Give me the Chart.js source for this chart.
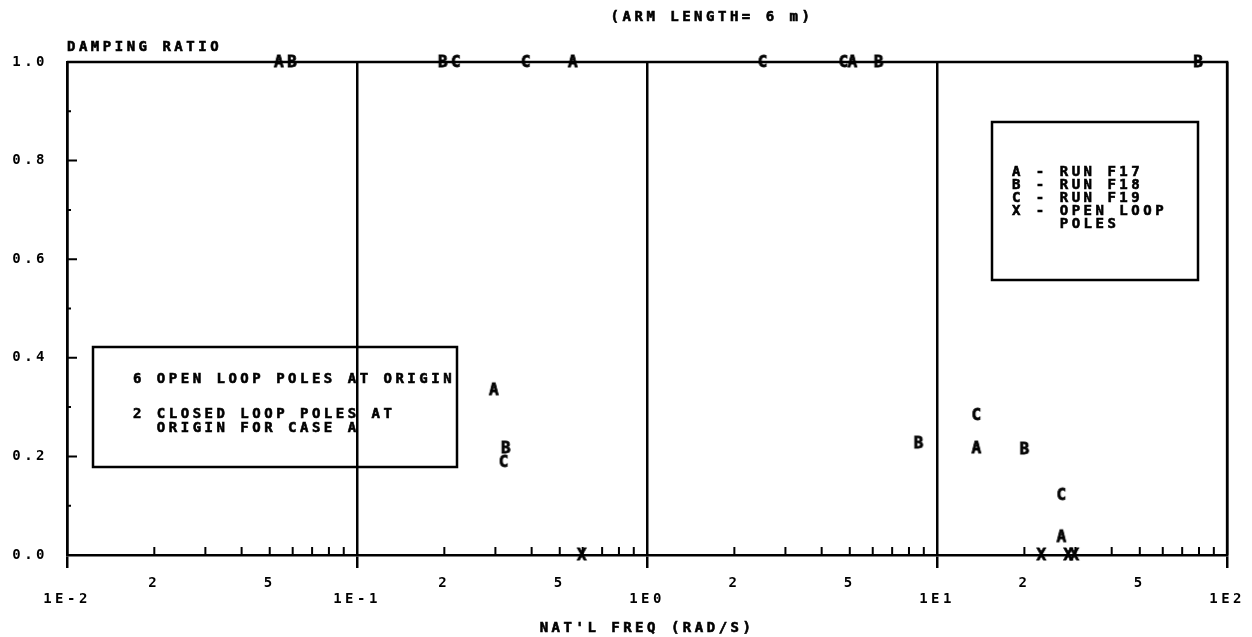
<!DOCTYPE html>
<html><head><meta charset="utf-8">
<script src="https://cdn.jsdelivr.net/npm/chart.js@4/dist/chart.umd.min.js"></script>
<style>html,body{margin:0;padding:0;background:#fff}#wrap{width:1252px;height:637px}</style>
</head><body><div id="wrap"><canvas id="c" width="1252" height="637"></canvas></div>
<script>
// ---- text ----
const chartTitle = '(ARM LENGTH= 6 m)';
const yAxisTitle = 'DAMPING RATIO';
const xAxisTitle = "NAT'L FREQ (RAD/S)";
const noteLines = ['6 OPEN LOOP POLES AT ORIGIN', '2 CLOSED LOOP POLES AT', '  ORIGIN FOR CASE A'];
const legendLines = ['A - RUN F17', 'B - RUN F18', 'C - RUN F19', 'X - OPEN LOOP', '    POLES'];

// ---- data (natural frequency rad/s, damping ratio) ----
const runAFreq = [0.0537, 0.554, 5.10, 0.296, 13.65, 26.8];
const runADamp = [1.0, 1.0, 1.0, 0.335, 0.217, 0.037];
const runBFreq = [0.0596, 0.1974, 6.28, 79.4, 0.3255, 8.62, 19.98];
const runBDamp = [1.0, 1.0, 1.0, 1.0, 0.217, 0.227, 0.215];
const runCFreq = [0.2189, 0.3815, 2.50, 4.75, 0.320, 13.65, 26.8];
const runCDamp = [1.0, 1.0, 1.0, 1.0, 0.189, 0.284, 0.122];
const openFreq = [0.595, 22.86, 28.3, 29.7];
const openDamp = [0.0, 0.0, 0.0, 0.0];

// ---- ticks ----
const xTickValues = [0.01,0.02,0.03,0.04,0.05,0.06,0.07,0.08,0.09,
  0.1,0.2,0.3,0.4,0.5,0.6,0.7,0.8,0.9,
  1,2,3,4,5,6,7,8,9,
  10,20,30,40,50,60,70,80,90,100];
const xMajorValues = [0.01, 0.1, 1, 10, 100];
const xMajorLabels = ['1E-2', '1E-1', '1E0', '1E1', '1E2'];
const xMinorLabelDigits = ['2', '5'];
const yTickValues = [0,0.1,0.2,0.3,0.4,0.5,0.6,0.7,0.8,0.9,1.0];
const yLabelValues = [0,0.2,0.4,0.6,0.8,1.0];

const FONT = '"DejaVu Sans Mono", monospace';
const FS = 14;
const SP = '3.5px';

function isMajorX(v){ return xMajorValues.some(m => Math.abs(m - v) / m < 1e-6); }
function xLabel(v){
  const i = xMajorValues.findIndex(m => Math.abs(m - v) / m < 1e-6);
  if (i >= 0) return ['', xMajorLabels[i]];
  const d = String(Math.round(v / Math.pow(10, Math.floor(Math.log10(v) + 1e-9))));
  return xMinorLabelDigits.includes(d) ? [d] : '';
}
function yLabel(v){
  return yLabelValues.some(m => Math.abs(m - v) < 1e-6) ? v.toFixed(1) : '';
}

function letterImage(ch){
  const cv = document.createElement('canvas');
  cv.width = 18; cv.height = 20;
  const g = cv.getContext('2d');
  g.fillStyle = '#000'; g.strokeStyle = '#000'; g.lineWidth = 0.8;
  g.font = 'bold 16px ' + FONT;
  g.textAlign = 'center'; g.textBaseline = 'middle';
  g.fillText(ch, 9, 10.5);
  g.strokeText(ch, 9, 10.5);
  return cv;
}
function ds(label, xs, ys){
  return { label, data: xs.map((x, i) => ({x, y: ys[i]})), pointStyle: letterImage(label[0]),
    pointRadius: 8, showLine: false, clip: false };
}

const spacingPlugin = {
  id: 'spacing',
  beforeLayout(chart){ chart.ctx.letterSpacing = SP; },
  beforeDraw(chart){ chart.ctx.letterSpacing = SP; }
};

function boldText(ctx, s, x, y){
  ctx.fillText(s, x, y);
  ctx.strokeText(s, x, y);
}

const decorPlugin = {
  id: 'decor',
  beforeDatasetsDraw(chart){
    const {ctx, chartArea: a, scales: {x, y}} = chart;
    ctx.save();
    ctx.strokeStyle = '#000';
    ctx.lineWidth = 2;
    ctx.beginPath();
    x.ticks.forEach(t => {
      if (isMajorX(t.value)) return;
      const px = x.getPixelForValue(t.value);
      ctx.moveTo(px, a.bottom); ctx.lineTo(px, a.bottom - 8);
    });
    y.ticks.forEach(t => {
      if (t.value <= 0 || t.value >= 1) return;
      const py = y.getPixelForValue(t.value);
      const len = yLabelValues.some(m => Math.abs(m - t.value) < 1e-6) ? 10 : 4;
      ctx.moveTo(a.left, py); ctx.lineTo(a.left + len, py);
    });
    ctx.stroke();
    ctx.lineWidth = 2.5;
    ctx.beginPath();
    ctx.moveTo(a.left, a.top); ctx.lineTo(a.right, a.top); ctx.lineTo(a.right, a.bottom);
    ctx.stroke();
    ctx.fillStyle = '#000';
    ctx.letterSpacing = SP;
    ctx.font = 'bold ' + FS + 'px ' + FONT;
    ctx.textBaseline = 'middle';
    ctx.textAlign = 'center';
    ctx.lineWidth = 0.6;
    boldText(ctx, chartTitle, 712, 17);
    boldText(ctx, xAxisTitle, (a.left + a.right) / 2, 628);
    ctx.textAlign = 'left';
    boldText(ctx, yAxisTitle, a.left, 47);
    ctx.lineWidth = 2.5;
    ctx.strokeRect(93, 347, 364, 120);
    ctx.lineWidth = 0.6;
    const noteY = [379, 414, 428];
    noteLines.forEach((s, i) => boldText(ctx, s, 133, noteY[i]));
    ctx.lineWidth = 2.5;
    ctx.strokeRect(992, 122, 206, 158);
    ctx.lineWidth = 0.6;
    legendLines.forEach((s, i) => boldText(ctx, s, 1012, 172 + i * 13));
    ctx.restore();
  }
};

new Chart(document.getElementById('c'), {
  type: 'scatter',
  data: { datasets: [
    ds('A - RUN F17', runAFreq, runADamp),
    ds('B - RUN F18', runBFreq, runBDamp),
    ds('C - RUN F19', runCFreq, runCDamp),
    ds('X - OPEN LOOP POLES', openFreq, openDamp)
  ]},
  options: {
    responsive: false, animation: false, devicePixelRatio: 1,
    layout: { padding: { top: 62, right: 24, left: 0, bottom: 0 } },
    plugins: { legend: { display: false }, tooltip: { enabled: false }, title: { display: false } },
    scales: {
      x: {
        type: 'logarithmic', min: 0.01, max: 100,
        afterBuildTicks: s => { s.ticks = xTickValues.map(v => ({ value: v })); },
        afterFit: s => { s.height = 82; },
        grid: {
          color: c => (c.tick && isMajorX(c.tick.value)) ? '#000' : 'rgba(0,0,0,0)',
          lineWidth: 2.5, drawTicks: true, tickLength: 13, tickWidth: 2.5,
          tickColor: c => (c.tick && isMajorX(c.tick.value)) ? '#000' : 'rgba(0,0,0,0)'
        },
        border: { display: true, color: '#000', width: 2.5 },
        ticks: {
          autoSkip: false, maxRotation: 0, minRotation: 0, padding: 7, color: '#000',
          font: { family: FONT, size: FS, weight: 'bold', lineHeight: 1.15 },
          callback: v => xLabel(v)
        }
      },
      y: {
        min: 0, max: 1,
        afterBuildTicks: s => { s.ticks = yTickValues.map(v => ({ value: v })); },
        afterFit: s => { s.width = 67; },
        grid: { display: false },
        border: { display: true, color: '#000', width: 2.5 },
        ticks: {
          autoSkip: false, padding: 11, color: '#000',
          font: { family: FONT, size: FS, weight: 'bold' },
          callback: v => yLabel(v)
        }
      }
    }
  },
  plugins: [spacingPlugin, decorPlugin]
});
</script>
</body></html>
